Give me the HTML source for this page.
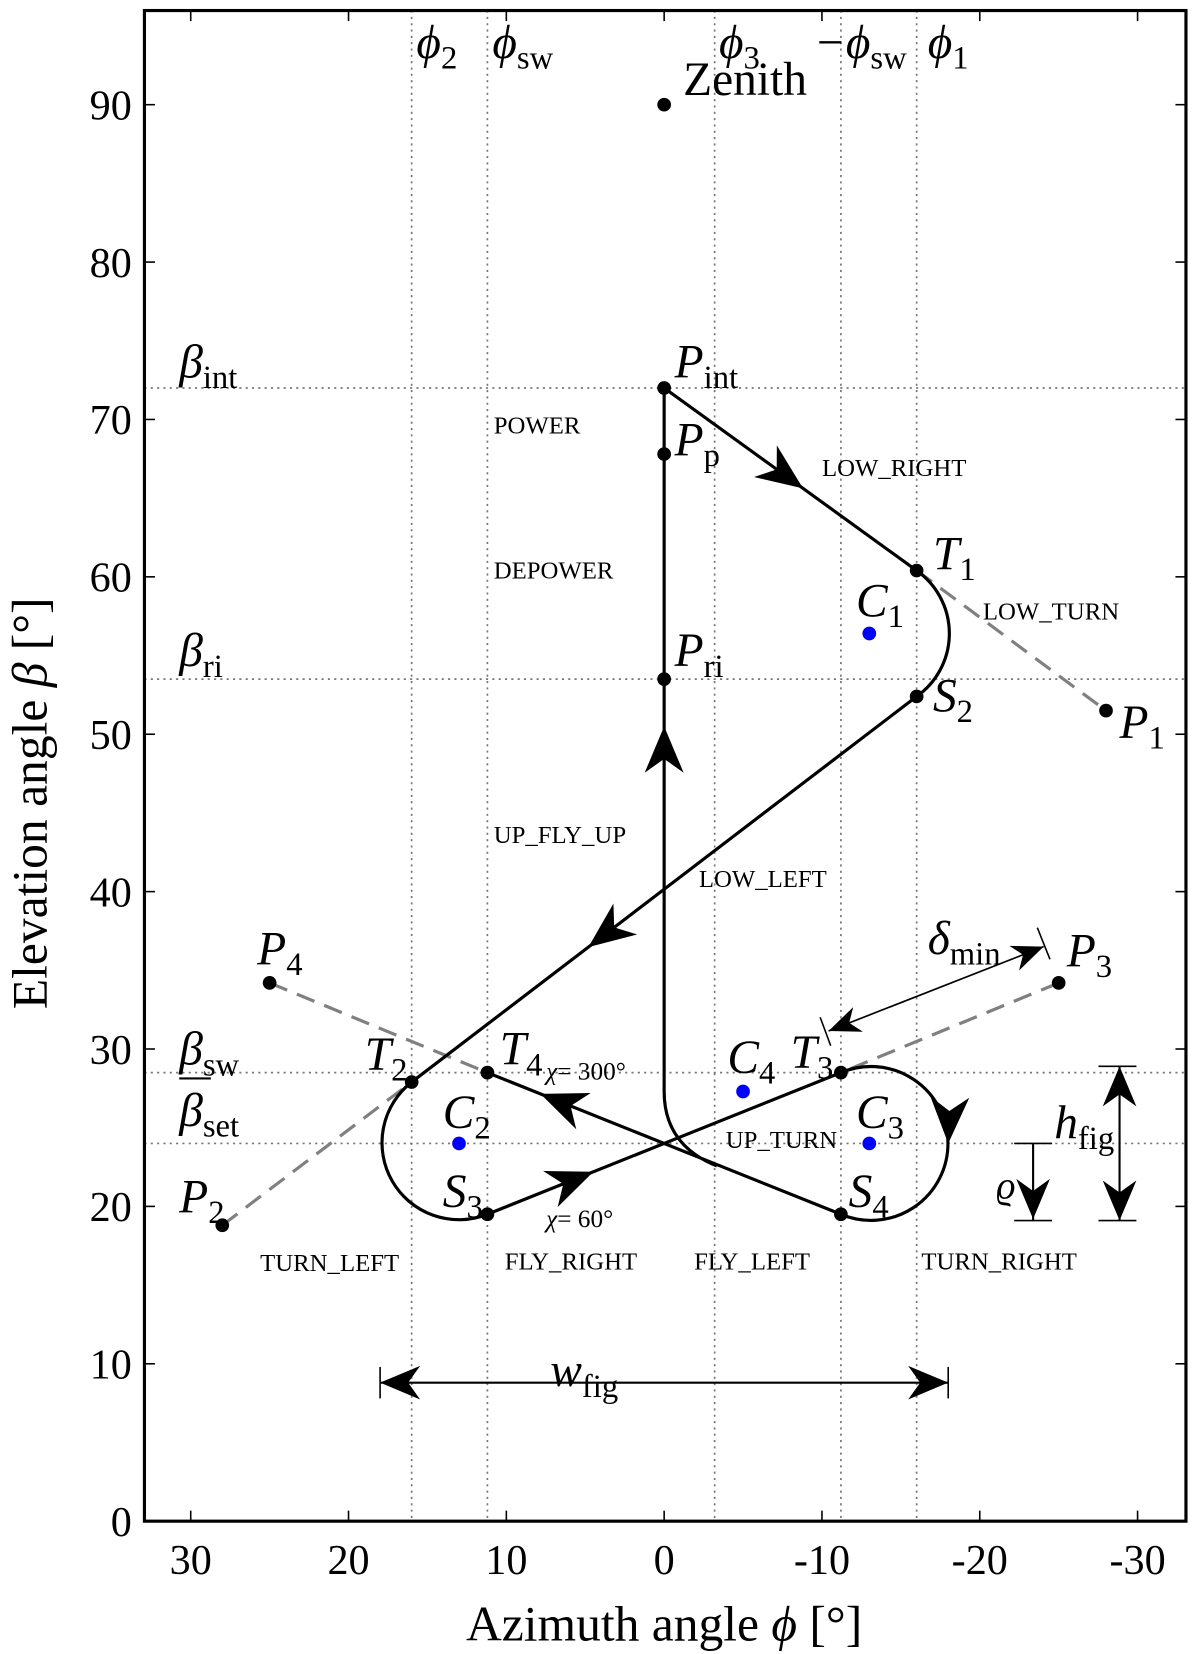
<!DOCTYPE html>
<html><head><meta charset="utf-8"><style>
html,body{margin:0;padding:0;background:#fff;}
svg{display:block;font-family:"Liberation Serif",serif;}
</style></head><body>
<svg id="chart" width="1198" height="1654" viewBox="0 0 1136.4 1569" xmlns="http://www.w3.org/2000/svg"></svg>
<script>
// ---- data ----
const xTicks=[30,20,10,0,-10,-20,-30];
const yTicks=[0,10,20,30,40,50,60,70,80,90];
const vLines=[16,11.2,-3.2,-11.2,-16];
const hLines=[72,53.5,28.5,24];
const ptNames=["Zenith","Pint","Pp","Pri","T1","S2","P1","T2","T4","S3","P2","P4","T3","S4","P3"];
const ptPhi=[0,0,0,0,-16,-16,-28,16,11.2,11.2,28,25,-11.2,-11.2,-25];
const ptBeta=[90,72,67.8,53.5,60.4,52.4,51.5,27.9,28.5,19.5,18.8,34.2,28.5,19.5,34.2];
const cNames=["C1","C2","C3","C4"];
const cPhi=[-13,13,-13,-5];
const cBeta=[56.4,24,24,27.3];
const regionNames=["POWER","LOW_RIGHT","DEPOWER","LOW_TURN","UP_FLY_UP","LOW_LEFT","UP_TURN","TURN_LEFT","FLY_RIGHT","FLY_LEFT","TURN_RIGHT"];
const regionPhi=[10.8,-10,10.8,-20.2,10.8,-2.2,-3.9,25.6,10.1,-1.9,-16.3];
const regionBeta=[69.1,66.4,59.9,57.3,43.1,40.3,23.7,15.9,16.0,16.0,16.0];
// ---- axes ----
const L=137,R=1125,T=10,B=1443;
const X=p=>630-p*14.97, Y=b=>1443-b*14.93;
const NS="http://www.w3.org/2000/svg", svg=document.getElementById('chart');
function el(tag,attrs,parent){const e=document.createElementNS(NS,tag);for(const k in attrs)e.setAttribute(k,attrs[k]);(parent||svg).appendChild(e);return e;}
function txt(x,y,html,size,anchor,style){const t=el('text',{x:x,y:y,'font-size':size,'text-anchor':anchor||'start'});if(style)t.setAttribute('style',style);t.innerHTML=html;return t;}
const pt={};ptNames.forEach((n,i)=>pt[n]=[X(ptPhi[i]),Y(ptBeta[i])]);
const cp={};cNames.forEach((n,i)=>cp[n]=[X(cPhi[i]),Y(cBeta[i])]);
// grid lines
vLines.forEach(v=>{const l=el('line',{x1:X(v),x2:X(v),y1:T,y2:B,stroke:'#777','stroke-width':1.6,'stroke-dasharray':'2,4'});

});
hLines.forEach(h=>{const l=el('line',{x1:L,x2:R,y1:Y(h),y2:Y(h),stroke:'#777','stroke-width':1.6,'stroke-dasharray':'2,4'});

});
// ticks
xTicks.forEach(v=>{el('line',{x1:X(v),x2:X(v),y1:B,y2:B-10,stroke:'#000','stroke-width':1.5});el('line',{x1:X(v),x2:X(v),y1:T,y2:T+10,stroke:'#000','stroke-width':1.5});
const t=txt(X(v),1493,String(v),40,'middle');

});
yTicks.forEach(v=>{el('line',{x1:L,x2:L+10,y1:Y(v),y2:Y(v),stroke:'#000','stroke-width':1.5});el('line',{x1:R,x2:R-10,y1:Y(v),y2:Y(v),stroke:'#000','stroke-width':1.5});
const t=txt(125,Y(v)+14,String(v),40,'end');

});
// dashed tether lines
[["T1","P1"],["P4","T4"],["P2","T2"],["P3","T3"]].forEach(([a,b])=>{const l=el('line',{x1:pt[a][0],y1:pt[a][1],x2:pt[b][0],y2:pt[b][1],stroke:'#808080','stroke-width':3,'stroke-dasharray':'18,10'});

});
// main path
const r=73;
const P=n=>pt[n][0]+','+pt[n][1];
const upStart=[X(0),Y(27.3)];
const joinPt=[X(-3.34),Y(22.57)];
const ctrl=[X(0),Y(23.9)];
const d=`M${joinPt[0]},${joinPt[1]} Q${ctrl[0]},${ctrl[1]} ${upStart[0]},${upStart[1]} L${P('Pint')} L${P('T1')} A${r},${r} 0 0 1 ${P('S2')} L${P('T2')} A${r},${r} 0 0 0 ${P('S3')} L${P('T3')} A${r},${r} 0 1 1 ${P('S4')} L${P('T4')}`;
const path=el('path',{d:d,fill:'none',stroke:'#000','stroke-width':3});


// arrowheads
function arrowHead(x,y,ang,size){const g=el('path',{d:`M0,0 L${-size},${-size*0.42} L${-size*0.7},0 L${-size},${size*0.42} Z`,fill:'#000',transform:`translate(${x},${y}) rotate(${ang})`});return g;}
function along(a,b,t){return [a[0]+(b[0]-a[0])*t,a[1]+(b[1]-a[1])*t, Math.atan2(b[1]-a[1],b[0]-a[0])*180/Math.PI];}
[[pt.Pint,pt.T1,0.55],[pt.S2,pt.T2,0.65],[pt.S4,pt.T4,0.85],[pt.S3,pt.T3,0.3]].forEach(([a,b,t])=>{const q=along(a,b,t);const h=arrowHead(q[0],q[1],q[2],44);

});
{const h=arrowHead(X(0),Y(50.5),-90,44);}
{const h=arrowHead(X(-18),Y(24),92,44);}
// dimension arrows
function dim(x1,y1,x2,y2,w,sz,name){const l=el('line',{x1:x1,y1:y1,x2:x2,y2:y2,stroke:'#000','stroke-width':w});


const a=Math.atan2(y2-y1,x2-x1)*180/Math.PI;arrowHead(x2,y2,a,sz);arrowHead(x1,y1,a+180,sz);}
dim(X(18),Y(8.8),X(-18),Y(8.8),2,38,'w-fig-dimension');
el('line',{x1:X(18),x2:X(18),y1:Y(7.8),y2:Y(9.8),stroke:'#000','stroke-width':1.5});
el('line',{x1:X(-18),x2:X(-18),y1:Y(7.8),y2:Y(9.8),stroke:'#000','stroke-width':1.5});
dim(1062,Y(28.9),1062,Y(19.1),2,38,'h-fig-dimension');
el('line',{x1:1042,x2:1078,y1:Y(28.9),y2:Y(28.9),stroke:'#000','stroke-width':1.5});
el('line',{x1:1042,x2:1078,y1:Y(19.1),y2:Y(19.1),stroke:'#000','stroke-width':1.5});
{const l=el('line',{x1:980,y1:Y(24),x2:980,y2:Y(19.1),stroke:'#000','stroke-width':2});arrowHead(980,Y(19.2),90,38);
el('line',{x1:962,x2:998,y1:Y(24),y2:Y(24),stroke:'#000','stroke-width':1.5});el('line',{x1:962,x2:998,y1:Y(19.1),y2:Y(19.1),stroke:'#000','stroke-width':1.5});}
dim(786,978,990,898,1.6,30,'delta-min-dimension');
el('line',{x1:778,y1:965,x2:788,y2:992,stroke:'#000','stroke-width':1.5});
el('line',{x1:984,y1:880,x2:996,y2:910,stroke:'#000','stroke-width':1.5});
// points
ptNames.forEach(n=>{const c=el('circle',{cx:pt[n][0],cy:pt[n][1],r:6.5,fill:'#000'});

});
cNames.forEach(n=>{const c=el('circle',{cx:cp[n][0],cy:cp[n][1],r:6.5,fill:'#0000ff'});

});
// region labels
regionNames.forEach((n,i)=>{const t=txt(X(regionPhi[i]),Y(regionBeta[i]),n,23.5,'start');

});
// annotation labels
const I='font-style:italic';
const sub=s=>`<tspan dy="10" font-size="31" font-style="normal">${s}</tspan>`;
const lbl=[
[648,90,'Zenith','normal'],
[640,358,'P'+sub('int'),I],[640,432,'P'+sub('p'),I],[640,632,'P'+sub('ri'),I],
[885,540,'T'+sub('1'),I],[885,675,'S'+sub('2'),I],[1062,700,'P'+sub('1'),I],
[812,585,'C'+sub('1'),I],[244,915,'P'+sub('4'),I],[1012,917,'P'+sub('3'),I],
[346,1015,'T'+sub('2'),I],[474,1010,'T'+sub('4'),I],[420,1145,'S'+sub('3'),I],
[170,1150,'P'+sub('2'),I],[420,1070,'C'+sub('2'),I],[690,1018,'C'+sub('4'),I],
[750,1013,'T'+sub('3'),I],[812,1070,'C'+sub('3'),I],[805,1145,'S'+sub('4'),I],
[880,905,'δ'+sub('min'),I],[1000,1080,'h'+sub('fig'),I],[522,1315,'w'+sub('fig'),I],
[170,358,'β'+sub('int'),I],[170,632,'β'+sub('ri'),I],[170,1010,'β'+sub('sw'),I],[170,1068,'β'+sub('set'),I],
[395,55,'ϕ'+sub('2'),I],[467,55,'ϕ'+sub('sw'),I],[682,55,'ϕ'+sub('3'),I],[772,55,'−ϕ'+sub('sw'),I],[880,55,'ϕ'+sub('1'),I]
];
lbl.forEach(a=>{const t=txt(a[0],a[1],a[2],45,'start',a[3]==='normal'?'':a[3]);

});
el('line',{x1:170,x2:200,y1:1023,y2:1023,stroke:'#000','stroke-width':2});
{const t=txt(945,1137,'ϱ',36,'start',I);}
{const t=txt(518,1024,'χ<tspan font-style="normal">= 300°</tspan>',24,'start',I);}
{const t=txt(518,1164,'χ<tspan font-style="normal">= 60°</tspan>',24,'start',I);}
// frame
{const f=el('rect',{x:L,y:T,width:R-L,height:B-T,fill:'none',stroke:'#000','stroke-width':3});}
// axis titles
{const t=txt(630,1556,'Azimuth angle <tspan font-style="italic">ϕ</tspan> [°]',47,'middle');}
{const t=txt(0,0,'Elevation angle <tspan font-style="italic">β</tspan> [°]',47,'middle');t.setAttribute('transform','translate(44,762) rotate(-90)');}
</script>
</body></html>
